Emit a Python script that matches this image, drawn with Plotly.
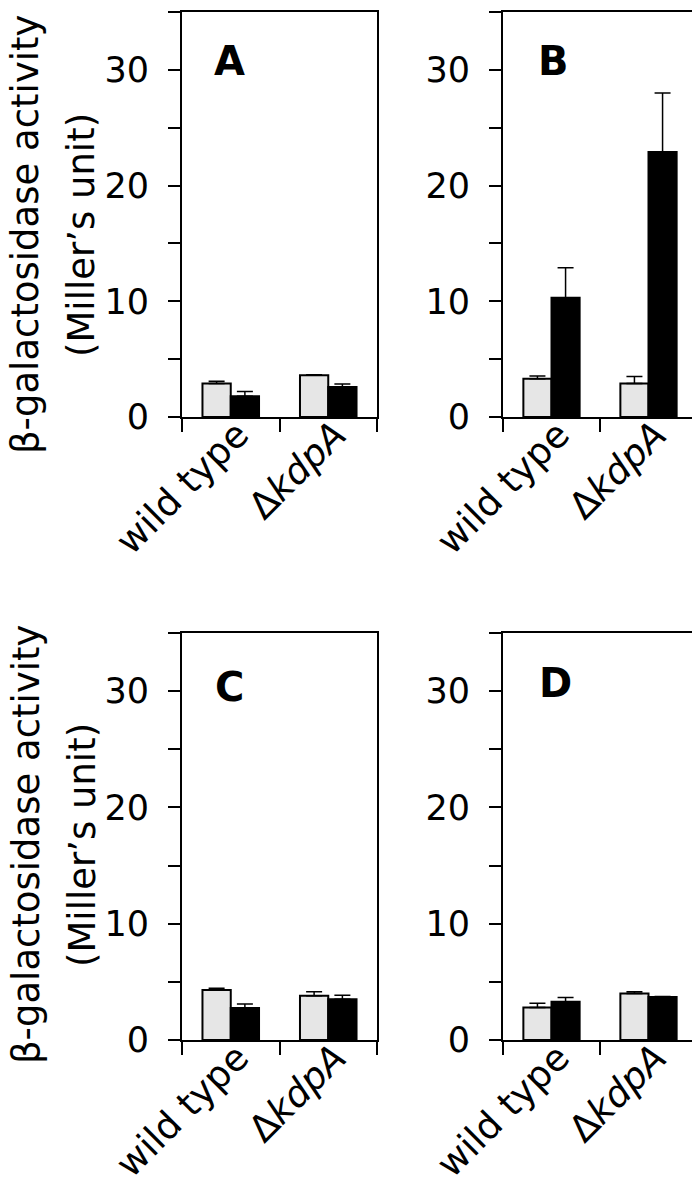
import plotly.graph_objects as go

# ---- data ----
categories = ["wild type", "Δ<i>kdpA</i>"]
panel_names = ["A", "B", "C", "D"]

grey_A = [2.9, 3.6]
grey_A_err = [0.2, 0.05]
black_A = [1.8, 2.6]
black_A_err = [0.4, 0.25]

grey_B = [3.3, 2.9]
grey_B_err = [0.25, 0.6]
black_B = [10.3, 22.9]
black_B_err = [2.6, 5.1]

grey_C = [4.3, 3.8]
grey_C_err = [0.15, 0.35]
black_C = [2.75, 3.5]
black_C_err = [0.35, 0.35]

grey_D = [2.8, 4.0]
grey_D_err = [0.35, 0.15]
black_D = [3.3, 3.7]
black_D_err = [0.35, 0.05]

y_tick_vals = [0, 5, 10, 15, 20, 25, 30, 35]
y_tick_text = ["0", "", "10", "", "20", "", "30", ""]

grey_series = [grey_A, grey_B, grey_C, grey_D]
grey_errs = [grey_A_err, grey_B_err, grey_C_err, grey_D_err]
black_series = [black_A, black_B, black_C, black_D]
black_errs = [black_A_err, black_B_err, black_C_err, black_D_err]

# page body has an 8px default margin; the figure is sized to fill the rest
OFF = 8
W, H = 700 - OFF, 1184 - OFF
FONT = "DejaVu Sans"


def px_x(v):
    return (v - OFF) / W


def px_y(v):
    return 1 - (v - OFF) / H


# plot-area boxes in window pixels (left, right, top, bottom)
boxes = [
    (182, 377, 12, 417),
    (503, 697, 12, 417),
    (182, 377, 633, 1040),
    (503, 697, 633, 1040),
]

fig = go.Figure()
layout = dict(
    width=W, height=H, autosize=False,
    margin=dict(l=0, r=0, t=0, b=0, autoexpand=False),
    paper_bgcolor="white", plot_bgcolor="white",
    barmode="group", bargap=0.42, bargroupgap=0.0,
    showlegend=False,
    font=dict(family=FONT, color="black"),
)

for i in range(4):
    n = "" if i == 0 else str(i + 1)
    xa, ya = "x" + n, "y" + n
    fig.add_trace(go.Bar(
        x=categories, y=grey_series[i], xaxis=xa, yaxis=ya,
        marker=dict(color="#e6e6e6", line=dict(color="black", width=2)),
        error_y=dict(type="data", array=grey_errs[i], arrayminus=[0, 0],
                     symmetric=False, color="black", thickness=1.5, width=8),
        offsetgroup="g",
    ))
    fig.add_trace(go.Bar(
        x=categories, y=black_series[i], xaxis=xa, yaxis=ya,
        marker=dict(color="black", line=dict(color="black", width=2)),
        error_y=dict(type="data", array=black_errs[i], arrayminus=[0, 0],
                     symmetric=False, color="black", thickness=1.5, width=8),
        offsetgroup="b",
    ))
    l, r, t, b = boxes[i]
    layout["xaxis" + n] = dict(
        domain=[px_x(l), px_x(r)], anchor=ya, type="category",
        range=[-0.5, 1.5], tickson="boundaries", automargin=False,
        ticks="outside", ticklen=13, tickwidth=2, tickcolor="black",
        showline=True, linewidth=2, linecolor="black", mirror=True,
        showgrid=False, zeroline=False, tickangle=-45,
        ticklabelstandoff=-21, ticklabelshift=7,
        tickfont=dict(family=FONT, size=37, color="black"),
    )
    layout["yaxis" + n] = dict(
        domain=[px_y(b), px_y(t)], anchor=xa, automargin=False,
        range=[0, 35], tickvals=y_tick_vals, ticktext=y_tick_text,
        ticks="outside", ticklen=12, tickwidth=2, tickcolor="black",
        showline=True, linewidth=2, linecolor="black", mirror=True,
        showgrid=False, zeroline=False, ticklabelstandoff=12,
        tickfont=dict(family=FONT, size=35, color="black"),
    )

fig.update_layout(**layout)

# panel letters
letter_pos = [(230, 61), (553, 61), (229, 687), (555, 683)]
for name, (px, py) in zip(panel_names, letter_pos):
    fig.add_annotation(text="<b>" + name + "</b>", x=px_x(px), y=px_y(py),
                       xref="paper", yref="paper", showarrow=False,
                       xanchor="center", yanchor="middle",
                       font=dict(family=FONT, size=40, color="black"))

# y-axis titles
for cy in (235, 845):
    fig.add_annotation(text="β-galactosidase activity", x=px_x(26), y=px_y(cy),
                       xref="paper", yref="paper", showarrow=False, textangle=-90,
                       xanchor="center", yanchor="middle",
                       font=dict(family=FONT, size=37, color="black"))
    fig.add_annotation(text="(Miller’s unit)", x=px_x(82), y=px_y(cy),
                       xref="paper", yref="paper", showarrow=False, textangle=-90,
                       xanchor="center", yanchor="middle",
                       font=dict(family=FONT, size=37, color="black"))

fig.write_html("out.html")
